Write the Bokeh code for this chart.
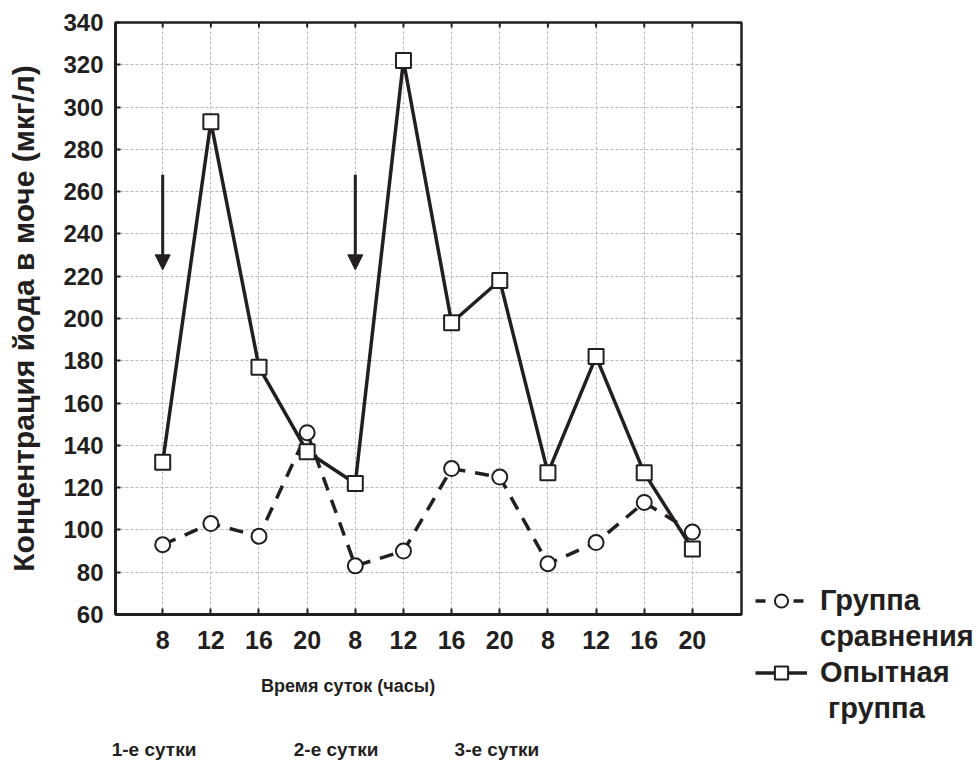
from bokeh.plotting import figure
from bokeh.layouts import row
from bokeh.models import (Range1d, FixedTicker, LinearAxis, Legend, LegendItem,
                          Arrow, NormalHead, ColumnDataSource)
from bokeh.embed import file_html
from bokeh.resources import INLINE

# ---- data ----
hours = ["8", "12", "16", "20", "8", "12", "16", "20", "8", "12", "16", "20"]
comparison = [93, 103, 97, 146, 83, 90, 129, 125, 84, 94, 113, 99]        # Группа сравнения
experimental = [132, 293, 177, 137, 122, 322, 198, 218, 127, 182, 127, 91]  # Опытная группа
y_ticks = [60, 80, 100, 120, 140, 160, 180, 200, 220, 240, 260, 280, 300, 320, 340]
days = ["1-е сутки", "2-е сутки", "3-е сутки"]
arrow_at = [0, 4]          # time points marked with an arrow
arrow_from = [268, 268]
arrow_to = [223, 223]

# ---- layout constants ----
X0, X1 = -0.98, 12.02
Y0, Y1 = 60, 340
W, H = 750, 762            # main chart
LW = 229                   # legend strip
LEFT, TOP, RIGHT, BOTTOM = 115, 22, 9, 147
title_pos = 3.85                 # x position (category units) of the x title centre
day_pos = [-0.18, 3.60, 6.94]    # x positions of the day captions
TICK = 5                         # inner tick length, px

x = list(range(len(hours)))

INK = "#231f20"
FONT = "Liberation Sans"

p = figure(width=W, height=H, output_backend="svg", toolbar_location=None,
           x_range=Range1d(X0, X1), y_range=Range1d(Y0, Y1),
           min_border_left=LEFT, min_border_right=RIGHT, min_border_top=TOP,
           min_border_bottom=BOTTOM)
p.frame_align = False
p.background_fill_color = "white"
p.border_fill_color = "white"
p.outline_line_color = INK
p.outline_line_width = 2.5

xt = FixedTicker(ticks=x)
yt = FixedTicker(ticks=y_ticks)

# bottom axis (hours)
xa = p.xaxis[0]
xa.ticker = xt
xa.major_label_overrides = {i: h for i, h in enumerate(hours)}
xa.major_label_text_font = FONT
xa.major_label_text_font_style = "bold"
xa.major_label_text_font_size = "25px"
xa.major_label_text_color = INK
xa.major_label_standoff = 16
xa.major_tick_in = 6
xa.major_tick_out = 0
xa.minor_tick_line_color = None
xa.axis_line_width = 3
xa.axis_line_color = INK
xa.major_tick_line_color = INK
xa.major_tick_line_width = 2

# left axis
ya = p.yaxis[0]
ya.ticker = yt
ya.major_label_text_font = FONT
ya.major_label_text_font_style = "bold"
ya.major_label_text_font_size = "24px"
ya.major_label_text_color = INK
ya.major_label_standoff = 12
ya.major_tick_in = 5
ya.major_tick_out = 0
ya.minor_tick_line_color = None
ya.axis_line_width = 3
ya.axis_line_color = INK
ya.major_tick_line_color = INK
ya.major_tick_line_width = 2
ya.axis_label = "Концентрация йода в моче (мкг/л)"
ya.axis_label_text_font = FONT
ya.axis_label_text_font_style = "bold"
ya.axis_label_text_font_size = "30px"
ya.axis_label_text_color = INK
ya.axis_label_standoff = 20


def caption_axis(ticks, labels, size, standoff):
    return LinearAxis(ticker=FixedTicker(ticks=ticks),
                      major_label_overrides={t: s for t, s in zip(ticks, labels)},
                      major_label_text_font=FONT, major_label_text_font_style="bold",
                      major_label_text_font_size=size, major_label_text_color=INK,
                      major_label_standoff=standoff, major_tick_in=0, major_tick_out=0,
                      major_tick_line_color=None, minor_tick_line_color=None,
                      axis_line_color=None)


p.add_layout(caption_axis([title_pos], ["Время суток (часы)"], "18px", 24), "below")
p.add_layout(caption_axis(day_pos, days, "19px", 40), "below")

# tick marks on the top and right edges of the box
ty = TICK * (Y1 - Y0) / (H - TOP - BOTTOM)
tx = TICK * (X1 - X0) / (W - LEFT - RIGHT)
p.segment(x0=x, y0=[Y1] * len(x), x1=x, y1=[Y1 - ty] * len(x),
          line_color=INK, line_width=2)
p.segment(x0=[X1] * len(y_ticks), y0=y_ticks, x1=[X1 - tx] * len(y_ticks), y1=y_ticks,
          line_color=INK, line_width=2)

# grid
for g, t in ((p.xgrid[0], xt), (p.ygrid[0], yt)):
    g.ticker = t
    g.grid_line_color = "#b8b8b8"
    g.grid_line_dash = "3 2"
    g.grid_line_width = 1

# series
dash_style = dict(line_color=INK, line_width=3.5, line_dash="14 10")
solid_style = dict(line_color=INK, line_width=3.5)
circle_style = dict(marker="circle", size=15, fill_color="white", line_color=INK, line_width=2)
square_style = dict(marker="square", size=15, fill_color="white", line_color=INK, line_width=2)

p.line(x, comparison, **dash_style)
p.line(x, experimental, **solid_style)
p.scatter(x, comparison, **circle_style)
p.scatter(x, experimental, **square_style)

# arrows
asrc = ColumnDataSource(dict(x0=arrow_at, y0=arrow_from, x1=arrow_at, y1=arrow_to))
p.add_layout(Arrow(x_start="x0", y_start="y0", x_end="x1", y_end="y1", source=asrc,
                   line_color=INK, line_width=3,
                   end=NormalHead(size=15, fill_color=INK, line_color=INK, line_width=1)))

# ---- legend strip to the right ----
q = figure(width=LW, height=H, output_backend="svg", toolbar_location=None,
           x_range=Range1d(0, 1), y_range=Range1d(0, 1),
           x_axis_location=None, y_axis_location=None, min_border=0)
q.frame_align = False
q.grid.visible = False
q.outline_line_color = None
q.background_fill_color = "white"
q.border_fill_color = "white"

# legend proxies: kept outside the visible range of this strip
off = [5, 6]
l_dash = q.line(off, off, line_color=INK, line_width=3.5, line_dash="10 28")
l_circ = q.scatter(off, off, **circle_style)
l_solid = q.line(off, off, **solid_style)
l_sq = q.scatter(off, off, **square_style)
blank = q.scatter(off, off, fill_alpha=0, line_alpha=0)

legend = Legend(items=[
    LegendItem(label="Группа", renderers=[l_dash, l_circ]),
    LegendItem(label="сравнения", renderers=[blank]),
    LegendItem(label="Опытная", renderers=[l_solid, l_sq]),
    LegendItem(label="\u00a0группа", renderers=[blank]),
], location=(5, 37), label_text_font=FONT, label_text_font_style="bold",
    label_text_font_size="29px", label_text_color=INK,
    glyph_width=52, glyph_height=33, label_standoff=13, padding=0,
    margin=0, spacing=3, border_line_color=None, background_fill_alpha=0)
q.add_layout(legend)

open("out.html", "w").write(file_html(row(p, q), INLINE))
